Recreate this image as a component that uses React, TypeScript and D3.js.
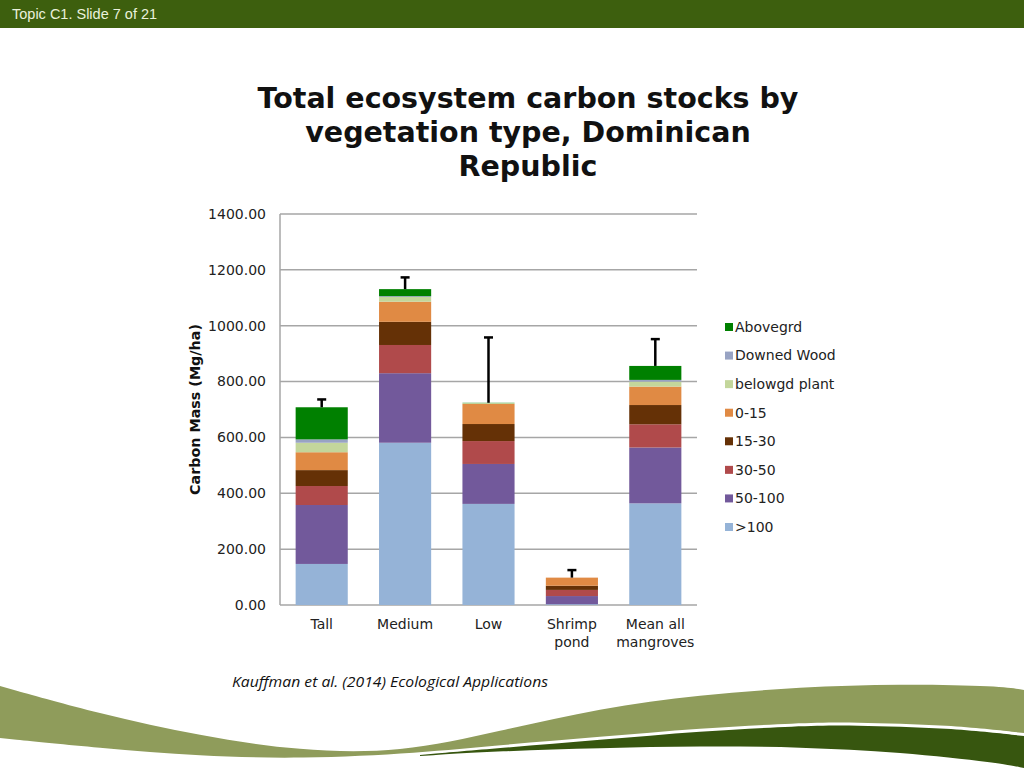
import React from 'react';
import * as d3 from 'd3';

// vegetation types (x axis)
const categories = ['Tall', 'Medium', 'Low', 'Shrimp pond', 'Mean all mangroves'];

// pools, bottom of stack first
const pools = ['>100', '50-100', '30-50', '15-30', '0-15', 'belowgd plant', 'Downed Wood', 'Abovegrd'];
const poolColors = ['#95b3d7', '#72599b', '#b04a4b', '#653106', '#e08a44', '#c3d69b', '#98a3c3', '#008000'];

// carbon mass (Mg/ha) per pool, one value per category
const soil100 = [147, 581, 362, 3, 364];
const soil50to100 = [211, 249, 143, 29, 200];
const soil30to50 = [68, 101, 82, 22, 83];
const soil15to30 = [57, 83, 61, 15, 69];
const soil0to15 = [64, 72, 72, 29, 66];
const belowgdPlant = [34, 17, 3, 0, 18];
const downedWood = [12, 3, 0, 0, 6];
const abovegrd = [115, 25, 1, 0, 50];

// upper error on the total
const totalError = [28, 42, 234, 27, 96];

const yTicks = [0, 200, 400, 600, 800, 1000, 1200, 1400];

const series = [soil100, soil50to100, soil30to50, soil15to30, soil0to15, belowgdPlant, downedWood, abovegrd];

export default function App() {
  const W = 1024;
  const H = 768;
  const plot = { left: 280, right: 697, top: 214, bottom: 605 };

  const x = d3.scaleBand<string>()
    .domain(categories)
    .range([plot.left, plot.right])
    .paddingInner(0.375)
    .paddingOuter(0.1875);

  const y = d3.scaleLinear().domain([0, 1400]).range([plot.bottom, plot.top]);

  const rows = categories.map((c, i) => {
    const r: Record<string, any> = { category: c };
    pools.forEach((p, j) => { r[p] = series[j][i]; });
    return r;
  });
  const stacked = d3.stack<Record<string, any>>().keys(pools)(rows);

  const totals = categories.map((_, i) => d3.sum(series, s => s[i]));

  // decorative swoosh at the bottom of the slide
  const curve = d3.line().curve(d3.curveBasis);
  const lightTop: [number, number][] = [[0, 686], [100, 714], [200, 736], [300, 751], [400, 753], [500, 731], [600, 708], [700, 695], [800, 687], [900, 684], [1000, 686], [1024, 690]];
  const lightBottom: [number, number][] = [[1024, 733], [950, 725], [850, 722], [800, 723], [700, 728], [600, 737], [500, 745], [420, 753], [300, 759], [200, 756], [100, 748], [0, 738]];
  const darkTop: [number, number][] = [[420, 755], [500, 748], [600, 740], [700, 731], [800, 726], [850, 725], [950, 728], [1024, 736]];
  const darkBottom: [number, number][] = [[1024, 768], [1000, 763], [900, 752], [800, 747], [700, 746], [600, 748], [500, 751], [420, 756]];

  const legendY = d3.scalePoint<string>()
    .domain([...pools].reverse())
    .range([327, 527]);

  return (
    <div style={{ position: 'absolute', left: 0, top: 0 }}>
      <svg width={W} height={H} viewBox={`0 0 ${W} ${H}`} style={{ display: 'block', background: '#fff' }}>
        {/* header bar */}
        <rect x={0} y={0} width={W} height={28} fill="#3d5f0e" />
        <text x={12} y={19} fill="#eaf1dc" fontFamily="'Liberation Sans', sans-serif" fontSize={14.5}>
          Topic C1. Slide 7 of 21
        </text>

        {/* title */}
        <g fontFamily="'DejaVu Sans', Verdana, sans-serif" fontWeight="bold" fontSize={28.5} fill="#111" textAnchor="middle">
          <text x={528} y={108}>Total ecosystem carbon stocks by</text>
          <text x={528} y={142}>vegetation type, Dominican</text>
          <text x={528} y={176}>Republic</text>
        </g>

        {/* grid + y ticks */}
        <g fontFamily="'DejaVu Sans', Verdana, sans-serif" fontSize={14} fill="#222">
          {yTicks.map(t => (
            <g key={t}>
              <line x1={plot.left} x2={plot.right} y1={y(t)} y2={y(t)} stroke="#a6a6a6" strokeWidth={1.5} />
              <text x={266} y={y(t)} dy="0.35em" textAnchor="end">{t.toFixed(2)}</text>
            </g>
          ))}
        </g>
        <line x1={plot.left} x2={plot.left} y1={plot.top} y2={plot.bottom} stroke="#a6a6a6" strokeWidth={1.5} />

        {/* axis title */}
        <text
          transform={`translate(200,${(plot.top + plot.bottom) / 2}) rotate(-90)`}
          textAnchor="middle"
          fontFamily="'DejaVu Sans', Verdana, sans-serif"
          fontWeight="bold"
          fontSize={14.3}
          fill="#111"
        >
          Carbon Mass (Mg/ha)
        </text>

        {/* stacked bars */}
        {stacked.map((layer, j) => (
          <g key={pools[j]} fill={poolColors[j]}>
            {layer.map((d, i) => (
              d[1] - d[0] > 0 ? (
                <rect
                  key={i}
                  x={x(categories[i])}
                  y={y(d[1])}
                  width={x.bandwidth()}
                  height={y(d[0]) - y(d[1])}
                />
              ) : null
            ))}
          </g>
        ))}

        {/* error bars */}
        <g stroke="#000" strokeWidth={2.5}>
          {categories.map((c, i) => {
            const cx = (x(c) as number) + x.bandwidth() / 2;
            const top = y(totals[i] + totalError[i]);
            return (
              <g key={c}>
                <line x1={cx} x2={cx} y1={y(totals[i])} y2={top} />
                <line x1={cx - 4.5} x2={cx + 4.5} y1={top} y2={top} />
              </g>
            );
          })}
        </g>

        {/* category labels */}
        <g fontFamily="'DejaVu Sans', Verdana, sans-serif" fontSize={14} fill="#222" textAnchor="middle">
          {categories.map(c => {
            const cx = (x(c) as number) + x.bandwidth() / 2;
            const words = c.split(' ');
            const lines = words.length > 2 ? [words.slice(0, 2).join(' '), words.slice(2).join(' ')] : words.length === 2 && c.startsWith('Shrimp') ? words : [c];
            return (
              <text key={c} x={cx} y={629}>
                {lines.map((l, k) => (
                  <tspan key={k} x={cx} dy={k === 0 ? 0 : 17.5}>{l}</tspan>
                ))}
              </text>
            );
          })}
        </g>

        {/* legend */}
        <g fontFamily="'DejaVu Sans', Verdana, sans-serif" fontSize={14} fill="#222">
          {pools.map((p, j) => (
            <g key={p} transform={`translate(725,${legendY(p)})`}>
              <rect x={0} y={-4} width={8} height={8} fill={poolColors[j]} />
              <text x={10} y={0} dy="0.35em">{p}</text>
            </g>
          ))}
        </g>

        {/* citation */}
        <text
          x={232}
          y={687}
          fontFamily="'Open Sans', sans-serif"
          fontStyle="italic"
          fontSize={14}
          fill="#111"
          textLength={316}
          lengthAdjust="spacingAndGlyphs"
        >
          Kauffman et al. (2014) Ecological Applications
        </text>

        {/* swoosh */}
        <path d={(curve(lightTop) || '') + (curve(lightBottom) || '').replace('M', 'L') + 'Z'} fill="#8f9c5b" />
        <path d={(curve(darkTop) || '') + (curve(darkBottom) || '').replace('M', 'L') + 'Z'} fill="#37560f" />
      </svg>
    </div>
  );
}
